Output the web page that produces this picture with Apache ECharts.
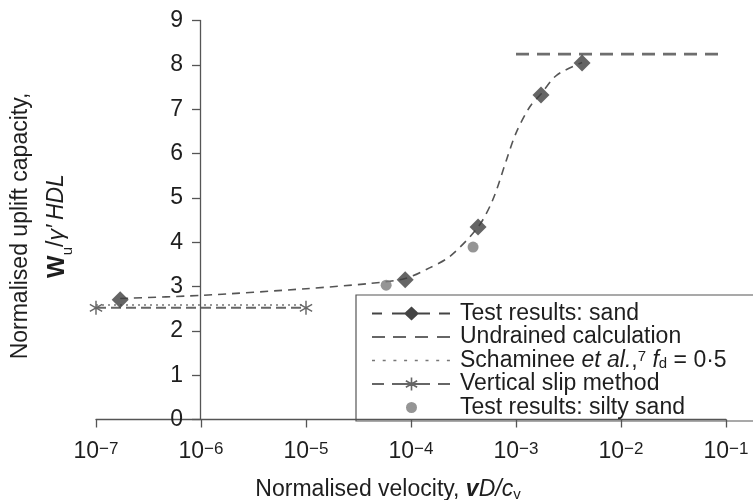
<!DOCTYPE html>
<html><head><meta charset="utf-8">
<script src="https://cdn.jsdelivr.net/npm/echarts@6/dist/echarts.min.js"></script>
<style>html,body{margin:0;padding:0;background:#fff}#c{width:753px;height:500px}</style>
</head><body><div id="c"></div>
<script>
// ---------------- data ----------------
const seriesNames = ['Test results: sand', 'Undrained calculation', 'Schaminee et al., fd = 0·5', 'Vertical slip method', 'Test results: silty sand'];
const legendLabels = ['Test results: sand', 'Undrained calculation', 'Schaminee {i|et al.},{sup|7} {i|f}{sub|d} = 0·5', 'Vertical slip method', 'Test results: silty sand'];
const sandX = [1.7e-7, 8.8e-5, 4.35e-4, 1.73e-3, 4.26e-3];
const sandY = [2.70, 3.15, 4.34, 7.32, 8.04];
const fitX = [1.7e-7, 1e-6, 1e-5, 4.1e-5, 8.8e-5, 1.5e-4, 2.35e-4, 4.35e-4, 6.0e-4, 8.1e-4, 1.0e-3, 1.35e-3, 1.74e-3, 2.45e-3, 4.26e-3];
const fitY = [2.73, 2.80, 2.95, 3.07, 3.18, 3.42, 3.68, 4.34, 4.95, 5.85, 6.46, 7.05, 7.35, 7.77, 8.05];
const siltyX = [5.8e-5, 3.9e-4];
const siltyY = [3.03, 3.89];
const undrainedX = [1e-3, 1e-1];
const undrainedY = [8.24, 8.24];
const schamineeX = [1e-7, 1e-5];
const schamineeY = [2.58, 2.58];
const slipX = [1e-7, 1e-5];
const slipY = [2.52, 2.52];
const xMin = 1e-7, xMax = 1e-1;
const yMin = 0, yMax = 9, yStep = 1;

// ---------------- helpers ----------------
const FONT = '"Liberation Sans", Arial, Helvetica, sans-serif';
const pairs = (xs, ys) => xs.map((x, i) => [x, ys[i]]);
function rect(x, w, y, h) { y = (y === undefined) ? 5.9 : y; h = (h === undefined) ? 2.2 : h; return 'M' + x + ',' + y + 'h' + w + 'v' + h + 'h' + (-w) + 'Z '; }
function star(cx, cy, r, w) {
  let s = '';
  [90, 30, -30].forEach(a => {
    const t = a * Math.PI / 180, dx = Math.cos(t), dy = Math.sin(t), px = -Math.sin(t), py = Math.cos(t);
    const P = (k, m) => (cx + k * r * dx + m * w * px).toFixed(3) + ',' + (cy + k * r * dy + m * w * py).toFixed(3);
    s += 'M' + P(1, -1) + 'L' + P(1, 1) + 'L' + P(-1, 1) + 'L' + P(-1, -1) + 'Z ';
  });
  return s;
}
const W = 83, H = 14;
const corners = 'M0,0h0.01v0.01h-0.01Z M' + (W - 0.01) + ',' + (H - 0.01) + 'h0.01v0.01h-0.01Z ';
const iconSand = 'path://' + corners + rect(0, 10) + rect(20, 13) + 'M32,7L39.5,0L47,7L39.5,14Z ' + rect(46, 12) + rect(67, 11);
const iconUnd = 'path://' + corners + rect(0, 13) + rect(21, 13) + rect(43, 13) + rect(65, 13);
let dots = ''; for (let k = 0; k < 8; k++) dots += rect(k * 10.7, 3, 6.2, 1.6);
const iconSch = 'path://' + corners + dots;
const iconSlip = 'path://' + corners + rect(0, 12) + rect(20, 38) + rect(66, 12) + star(39.5, 7, 6.5, 0.8);
const iconSilty = 'path://' + corners + 'M34,7A5.5,5.5 0 1,0 45,7A5.5,5.5 0 1,0 34,7Z';
const starSymbol = 'path://' + star(0, 0, 10, 1);

const txt = { fontFamily: FONT, color: '#1e1e1e', fill: '#1e1e1e' };
const chart = echarts.init(document.getElementById('c'), null, { renderer: 'canvas' });
chart.setOption({
  animation: false,
  backgroundColor: '#fff',
  grid: [
    { left: 96, right: 27, top: 20.5, bottom: 80.5, outerBoundsMode: 'none', containLabel: false },
    { left: 200, right: 27, top: 20.5, bottom: 80.5, outerBoundsMode: 'none', containLabel: false }
  ],
  xAxis: [
    {
      gridIndex: 0, type: 'log', logBase: 10, min: xMin, max: xMax,
      axisLine: { onZero: false, lineStyle: { color: '#555', width: 1.3 } },
      axisTick: { length: 8, lineStyle: { color: '#555', width: 1.3 } },
      minorTick: { show: false }, splitLine: { show: false },
      axisLabel: {
        margin: 21,
        formatter: v => '{b|10}{s|−' + Math.abs(Math.round(Math.log10(v))) + '}',
        rich: {
          b: Object.assign({ fontSize: 23, lineHeight: 22 }, txt),
          s: Object.assign({ fontSize: 17, lineHeight: 8, verticalAlign: 'top' }, txt)
        }
      }
    },
    { gridIndex: 1, type: 'value', min: 0, max: 1, show: false }
  ],
  yAxis: [
    { gridIndex: 0, type: 'value', min: yMin, max: yMax, interval: yStep, show: false },
    {
      gridIndex: 1, type: 'value', min: yMin, max: yMax, interval: yStep,
      axisLine: { show: true, onZero: false, lineStyle: { color: '#555', width: 1.3 } },
      axisTick: { show: true, length: 8, lineStyle: { color: '#555', width: 1.3 } },
      splitLine: { show: false },
      axisLabel: { margin: 17, fontSize: 23, fontFamily: FONT, color: '#1e1e1e' }
    }
  ],
  legend: {
    orient: 'vertical', left: 356, top: 295, padding: [7, 30, 2, 16],
    itemWidth: W, itemHeight: H, itemGap: 0.5, symbolKeepAspect: false,
    borderColor: '#555', borderWidth: 1.2, selectedMode: false,
    itemStyle: { borderWidth: 0 },
    formatter: name => legendLabels[seriesNames.indexOf(name)],
    textStyle: {
      fontSize: 23, fontFamily: FONT, color: '#1e1e1e', lineHeight: 22,
      rich: {
        i: Object.assign({ fontSize: 23, fontStyle: 'italic', lineHeight: 22 }, txt),
        sup: Object.assign({ fontSize: 15, lineHeight: 8, verticalAlign: 'top' }, txt),
        sub: Object.assign({ fontSize: 15, lineHeight: 8, verticalAlign: 'bottom' }, txt)
      }
    },
    data: [
      { name: seriesNames[0], icon: iconSand, itemStyle: { color: '#444', borderWidth: 0 } },
      { name: seriesNames[1], icon: iconUnd, itemStyle: { color: '#666', borderWidth: 0 } },
      { name: seriesNames[2], icon: iconSch, itemStyle: { color: '#777', borderWidth: 0 } },
      { name: seriesNames[3], icon: iconSlip, itemStyle: { color: '#666', borderWidth: 0 } },
      { name: seriesNames[4], icon: iconSilty, itemStyle: { color: '#7a7a7a', borderWidth: 0 } }
    ]
  },
  graphic: [
    {
      type: 'text', x: 39, y: 226, rotation: Math.PI / 2, silent: true,
      style: {
        text: '{n|Normalised uplift capacity,}\n{b|W}{sub|u}{n|/}{i|γ′\u2009HDL}',
        align: 'center', verticalAlign: 'middle', textAlign: 'center', textVerticalAlign: 'middle',
        fontSize: 23, fontFamily: FONT, fill: '#1e1e1e', lineHeight: 36,
        rich: {
          n: Object.assign({ fontSize: 23, lineHeight: 36 }, txt),
          b: Object.assign({ fontSize: 24, fontWeight: 'bold', lineHeight: 36 }, txt),
          i: Object.assign({ fontSize: 23, fontStyle: 'italic', lineHeight: 36 }, txt),
          sub: Object.assign({ fontSize: 15, lineHeight: 22, verticalAlign: 'bottom' }, txt)
        }
      }
    },
    {
      type: 'text', x: 388, y: 490, silent: true,
      style: {
        text: '{n|Normalised velocity, }{bi|v}{i|D/c}{sub|v}',
        align: 'center', verticalAlign: 'middle', textAlign: 'center', textVerticalAlign: 'middle',
        fontSize: 23, fontFamily: FONT, fill: '#1e1e1e', lineHeight: 24,
        rich: {
          n: Object.assign({ fontSize: 23, lineHeight: 24 }, txt),
          bi: Object.assign({ fontSize: 23, fontWeight: 'bold', fontStyle: 'italic', lineHeight: 24 }, txt),
          i: Object.assign({ fontSize: 23, fontStyle: 'italic', lineHeight: 24 }, txt),
          sub: Object.assign({ fontSize: 15, lineHeight: 10, verticalAlign: 'bottom' }, txt)
        }
      }
    }
  ],
  series: [
    {
      name: seriesNames[0], type: 'line', xAxisIndex: 0, yAxisIndex: 0, data: pairs(fitX, fitY),
      symbol: 'none', showSymbol: false, smooth: 0.3, color: '#555',
      lineStyle: { color: '#555', width: 1.6, type: [8, 6] }, z: 3
    },
    {
      name: 'sand points', type: 'scatter', xAxisIndex: 0, yAxisIndex: 0, data: pairs(sandX, sandY),
      symbol: 'diamond', symbolSize: 17, itemStyle: { color: '#3f3f3f' }, z: 5
    },
    {
      name: seriesNames[1], type: 'line', xAxisIndex: 0, yAxisIndex: 0, data: pairs(undrainedX, undrainedY),
      symbol: 'none', color: '#6e6e6e', lineStyle: { color: '#6e6e6e', width: 2.8, type: [13, 8] }
    },
    {
      name: seriesNames[2], type: 'line', xAxisIndex: 0, yAxisIndex: 0, data: pairs(schamineeX, schamineeY),
      symbol: 'none', color: '#777', lineStyle: { color: '#777', width: 1.5, type: [2, 4] }
    },
    {
      name: seriesNames[3], type: 'line', xAxisIndex: 0, yAxisIndex: 0, data: pairs(slipX, slipY),
      symbol: starSymbol, symbolSize: [13, 14], showSymbol: true, color: '#666',
      itemStyle: { color: '#666', borderWidth: 0 },
      lineStyle: { color: '#666', width: 2, type: [10, 5] }
    },
    {
      name: seriesNames[4], type: 'scatter', xAxisIndex: 0, yAxisIndex: 0, data: pairs(siltyX, siltyY),
      symbol: 'circle', symbolSize: 11, itemStyle: { color: '#7a7a7a' }, z: 4
    }
  ]
});
</script>
</body></html>
